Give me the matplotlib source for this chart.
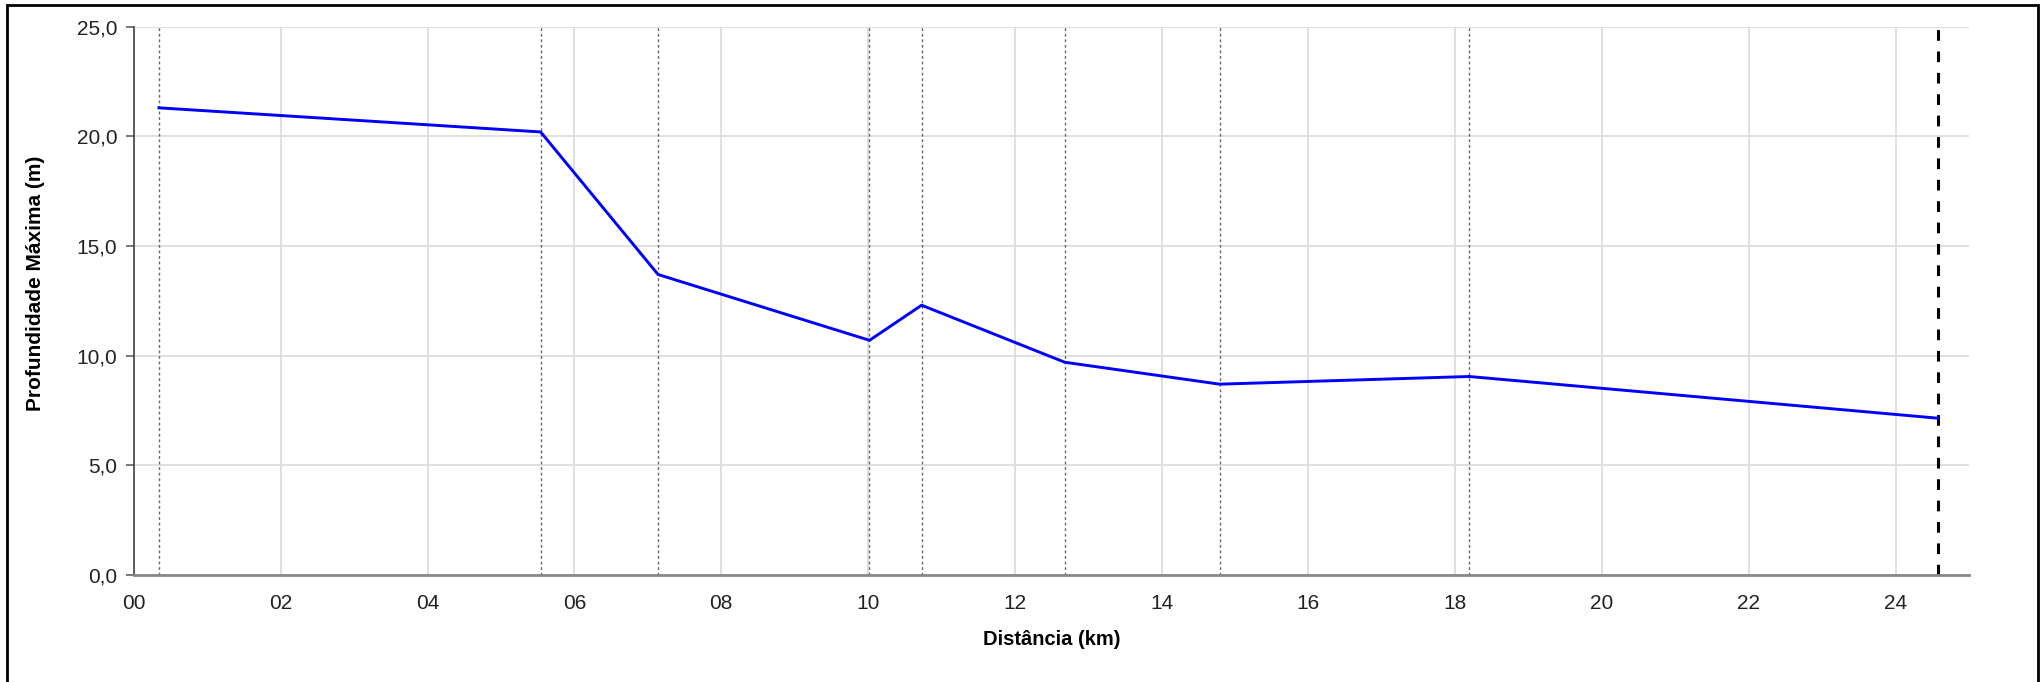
import matplotlib
matplotlib.use("Agg")
import matplotlib.pyplot as plt
from matplotlib.patches import Rectangle
from matplotlib.ticker import FuncFormatter, MultipleLocator

matplotlib.rcParams.update({"font.family": ["Liberation Sans", "DejaVu Sans"],
                            "font.size": 15})

# section distances (km) and maximum depth (m)
distancia = [0.34, 5.54, 7.14, 10.02, 10.73, 12.68, 14.79, 18.19, 24.57]
profundidade = [21.3, 20.2, 13.7, 10.7, 12.3, 9.7, 8.7, 9.05, 7.15]

fig = plt.figure(figsize=(20.42, 6.82), dpi=100)
ax = fig.add_axes([0.0656, 0.1569, 0.8987, 0.8040])

# outer frame (bottom edge falls outside the image)
fig.patches.append(Rectangle((7 / 2042, -0.05), (2038 - 7) / 2042, 1.05 - 5 / 682,
                             transform=fig.transFigure, fill=False,
                             edgecolor="black", lw=2, clip_on=False))

# section markers
for d in distancia[:-1]:
    ax.axvline(d, color="#666666", lw=1.0, ls=(0, (2, 2)), zorder=2)
ax.axvline(distancia[-1], color="black", lw=2.2, ls=(0, (3.5, 3.5)), zorder=2)

ax.plot(distancia, profundidade, color="#0000ff", lw=2.1, zorder=3)

ax.set_xlim(0, 25)
ax.set_ylim(0, 25)
ax.xaxis.set_major_locator(MultipleLocator(2))
ax.yaxis.set_major_locator(MultipleLocator(5))
ax.xaxis.set_major_formatter(FuncFormatter(lambda v, p: f"{int(round(v)):02d}"))
ax.yaxis.set_major_formatter(FuncFormatter(lambda v, p: f"{v:.1f}".replace(".", ",")))

ax.grid(True, color="#dddddd", lw=1.3, zorder=0)
ax.set_axisbelow(True)

for s in ("top", "right"):
    ax.spines[s].set_visible(False)
ax.spines["left"].set_color("#333333")
ax.spines["left"].set_linewidth(1.1)
ax.spines["bottom"].set_color("#888888")
ax.spines["bottom"].set_linewidth(2)

ax.tick_params(axis="x", length=0, pad=14, colors="#222222")
ax.tick_params(axis="y", length=6, width=1.1, color="#555555", pad=6, labelcolor="#222222")

ax.set_xlabel("Distância (km)", fontweight="bold", fontsize=14.5, labelpad=12)
ax.set_ylabel("Profundidade Máxima (m)", fontweight="bold", fontsize=15)
ax.yaxis.set_label_coords(-0.0485, 0.5325)

fig.savefig("out.png", dpi=100)
